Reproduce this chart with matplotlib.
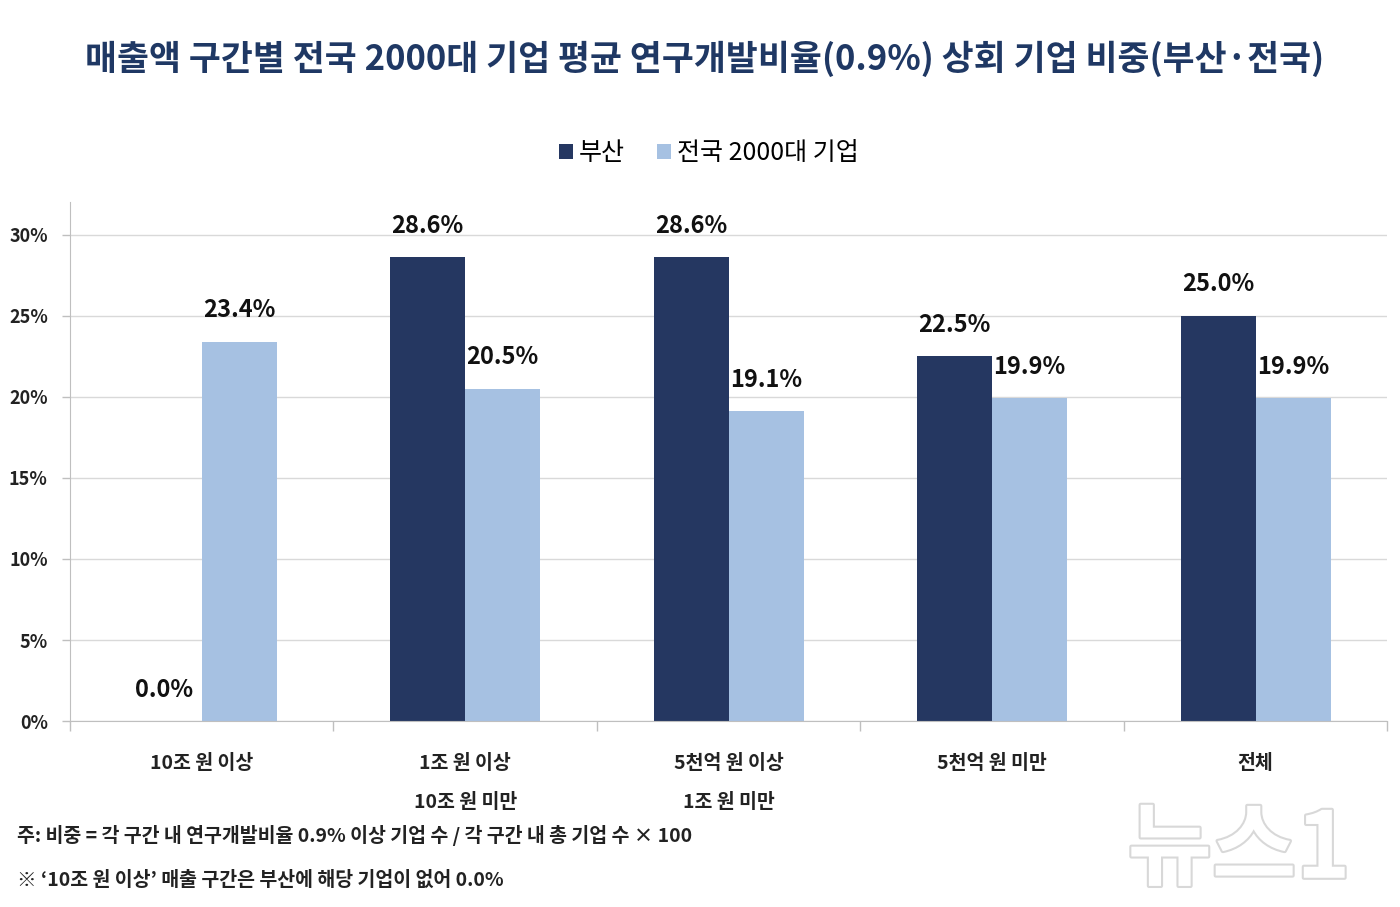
import matplotlib
matplotlib.use("Agg")
import matplotlib.pyplot as plt
import matplotlib.patheffects as pe
import numpy as np

plt.rcParams['font.family'] = ['Noto Sans CJK KR', 'DejaVu Sans']

# data
categories = ["10조 원 이상", "1조 원 이상\n10조 원 미만", "5천억 원 이상\n1조 원 미만", "5천억 원 미만", "전체"]
busan = [0.0, 28.6, 28.6, 22.5, 25.0]
national = [23.4, 20.5, 19.1, 19.9, 19.9]
series_names = ["부산", "전국 2000대 기업"]
yticks = [0, 5, 10, 15, 20, 25, 30]

DARK = "#253761"
LIGHT = "#A6C1E2"
TITLE_COLOR = "#1F3864"

fig = plt.figure(figsize=(14, 9.07), dpi=100)
ax = fig.add_axes([0.05, 0.205, 0.941, 0.572])

x = np.arange(len(categories))
w = 0.285
b1 = ax.bar(x - w / 2, busan, w, color=DARK, label=series_names[0])
b2 = ax.bar(x + w / 2, national, w, color=LIGHT, label=series_names[1])

for bars in (b1, b2):
    for rect in bars:
        v = rect.get_height()
        ax.annotate(f"{v:.1f}%", (rect.get_x() + rect.get_width() / 2, v),
                    xytext=(0, 14), textcoords="offset points",
                    ha="center", va="bottom", fontsize=17, fontweight="bold", color="#111111")

ax.set_xlim(-0.5, len(categories) - 0.5)
ax.set_ylim(0, 32)
ax.set_yticks(yticks)
ax.set_yticklabels([f"{t}%" for t in yticks], fontsize=13, fontweight="bold", color="#222222")
ax.yaxis.grid(True, color="#D9D9D9", linewidth=1)
ax.set_axisbelow(True)

ax.set_xticks(x)
ax.set_xticklabels(categories, fontsize=14, fontweight="bold", color="#222222", linespacing=2.3, va="top")
ax.tick_params(axis="x", length=0, pad=24)
ax.set_xticks(np.arange(-0.5, len(categories)), minor=True)
ax.tick_params(axis="x", which="minor", length=7, color="#BFBFBF", width=1)
ax.tick_params(axis="y", length=6, color="#BFBFBF", width=1, pad=10)

for s in ("top", "right"):
    ax.spines[s].set_visible(False)
ax.spines["left"].set_color("#BFBFBF")
ax.spines["bottom"].set_color("#BFBFBF")

fig.text(0.503, 0.935, "매출액 구간별 전국 2000대 기업 평균 연구개발비율(0.9%) 상회 기업 비중(부산·전국)",
         ha="center", va="center", fontsize=25, fontweight="bold", color=TITLE_COLOR)

ax.legend(loc="center", bbox_to_anchor=(0.485, 1.094), ncol=2, frameon=False,
          fontsize=18, handlelength=0.55, handleheight=0.55, handletextpad=0.25, columnspacing=1.3)

fig.text(0.012, 0.079, "주: 비중 = 각 구간 내 연구개발비율 0.9% 이상 기업 수 / 각 구간 내 총 기업 수 × 100",
         ha="left", va="center", fontsize=14, fontweight="bold", color="#222222")
fig.text(0.012, 0.029, "※ ‘10조 원 이상’ 매출 구간은 부산에 해당 기업이 없어 0.0%",
         ha="left", va="center", fontsize=14, fontweight="bold", color="#222222")

# faint watermark
fig.text(0.885, 0.062, "뉴스1", ha="center", va="center", fontsize=66, fontweight="bold",
         color="white", style="italic",
         path_effects=[pe.withStroke(linewidth=3, foreground="#D8D8D8")])

fig.savefig("out.png", dpi=100)
